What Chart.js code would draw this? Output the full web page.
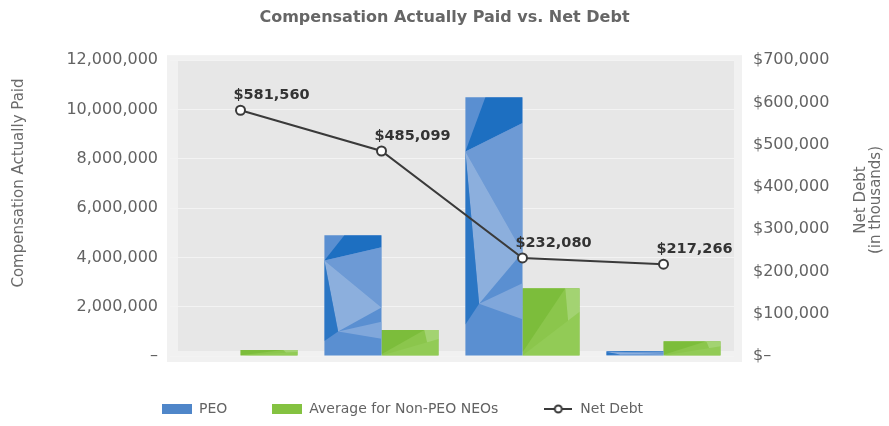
<!DOCTYPE html>
<html>
<head>
<meta charset="utf-8">
<script src="https://cdn.jsdelivr.net/npm/chart.js@4.4.0/dist/chart.umd.min.js"></script>
<style>
  html, body { margin: 0; padding: 0; background: #fff; }
</style>
</head>
<body>
<canvas id="chart" width="889" height="426"></canvas>
<script>
// data
const years = ['2020', '2021', '2022', '2023'];
const peo = [0, 4900000, 10500000, 200000];
const nonPeoAvg = [240000, 1050000, 2750000, 600000];
const netDebt = [581560, 485099, 232080, 217266];

const FONT = 'DejaVu Sans';
const TXT = '#636363';

// little legend icons (bar swatches + line w/ marker)
function swatch(w, h, color) {
    const c = document.createElement('canvas');
    c.width = w; c.height = h;
    const g = c.getContext('2d');
    g.fillStyle = color;
    g.fillRect(0, 0, w, h);
    return c;
}
function lineIcon() {
    const c = document.createElement('canvas');
    c.width = 28; c.height = 12;
    const g = c.getContext('2d');
    g.strokeStyle = '#3a3a3a'; g.lineWidth = 2;
    g.beginPath(); g.moveTo(0, 6); g.lineTo(28, 6); g.stroke();
    g.fillStyle = '#fff';
    g.beginPath(); g.arc(14, 6, 3.5, 0, Math.PI * 2); g.fill(); g.stroke();
    return c;
}
// indexed by dataset index: 0 = net debt line, 1 = PEO, 2 = non-PEO
const legendIcons = [lineIcon(), swatch(30, 10, '#4f86c9'), swatch(30, 10, '#84c241')];
const legendOrder = [2, 0, 1];

// faceted look of the bars, as fractions of each bar (u across, v down)
const facets = {
    blue: [
        [[0.35, 0], [1, 0], [1, 0.1], [0, 0.21], '#1d6fc1'],
        [[0, 0.21], [1, 0.1], [1, 0.6], '#6d9ad5'],
        [[0, 0.21], [1, 0.6], [0.24, 0.8], '#8cafdd'],
        [[0, 0.21], [0.24, 0.8], [0, 0.88], '#2b76c4'],
        [[0.24, 0.8], [1, 0.72], [1, 0.86], '#80a7db']
    ],
    green: [
        [[0, 0], [0.75, 0], [0, 0.95], '#7cbd3b'],
        [[0.75, 0], [1, 0], [1, 0.45], [0.8, 0.5], '#a3d372'],
        [[0, 1], [1, 0.35], [1, 1], '#92cb56']
    ]
};

const panelPlugin = {
    id: 'panel',
    beforeDraw(chart) {
        const { ctx, chartArea: a } = chart;
        ctx.save();
        ctx.fillStyle = '#f1f1f1';
        ctx.fillRect(a.left - 3, a.top - 5, a.right - a.left + 11, a.bottom - a.top + 11);
        ctx.fillStyle = '#e7e7e7';
        ctx.fillRect(a.left + 8, a.top, a.right - a.left - 8, a.bottom - a.top - 5);
        ctx.restore();
    }
};

const facetPlugin = {
    id: 'facets',
    afterDatasetDraw(chart, args) {
        const meta = args.meta;
        if (meta.type !== 'bar') return;
        const set = meta.index === 1 ? facets.blue : facets.green;
        const ctx = chart.ctx;
        meta.data.forEach(bar => {
            const h = bar.base - bar.y;
            if (h < 3) return;
            const l = bar.x - bar.width / 2, w = bar.width;
            ctx.save();
            ctx.beginPath(); ctx.rect(l, bar.y, w, h); ctx.clip();
            set.forEach(poly => {
                ctx.fillStyle = poly[poly.length - 1];
                ctx.beginPath();
                for (let k = 0; k < poly.length - 1; k++) {
                    const px = l + poly[k][0] * w, py = bar.y + poly[k][1] * h;
                    if (k === 0) ctx.moveTo(px, py); else ctx.lineTo(px, py);
                }
                ctx.closePath(); ctx.fill();
            });
            ctx.restore();
        });
    }
};

const labelPlugin = {
    id: 'pointLabels',
    afterDatasetsDraw(chart) {
        const ctx = chart.ctx;
        const meta = chart.getDatasetMeta(0);
        ctx.save();
        ctx.font = 'bold 14.5px "' + FONT + '"';
        ctx.fillStyle = '#333';
        ctx.textAlign = 'center';
        ctx.textBaseline = 'middle';
        meta.data.forEach((pt, i) => {
            ctx.fillText('$' + netDebt[i].toLocaleString('en-US'), pt.x + 31, pt.y - 15);
        });
        ctx.restore();
    }
};

// axis titles (right one reads bottom-to-top like the left one)
const axisTitlePlugin = {
    id: 'axisTitles',
    afterDraw(chart) {
        const ctx = chart.ctx;
        ctx.save();
        ctx.font = '15px "' + FONT + '"';
        ctx.fillStyle = '#6a6a6a';
        ctx.textAlign = 'center';
        ctx.textBaseline = 'middle';
        ctx.translate(19, 183);
        ctx.rotate(-Math.PI / 2);
        ctx.fillText('Compensation Actually Paid', 0, 0);
        ctx.restore();

        ctx.save();
        ctx.font = '15px "' + FONT + '"';
        ctx.fillStyle = '#6a6a6a';
        ctx.textAlign = 'center';
        ctx.textBaseline = 'middle';
        ctx.translate(869, 200);
        ctx.rotate(-Math.PI / 2);
        ctx.fillText('Net Debt', 0, -7.5);
        ctx.fillText('(in thousands)', 0, 7.5);
        ctx.restore();
    }
};

const legendShift = {
    id: 'legendShift',
    afterLayout(chart) {
        chart.legend.left += 117;
        chart.legend.right += 117;
    }
};

new Chart(document.getElementById('chart'), {
    data: {
        labels: years,
        datasets: [
            {
                type: 'line', label: 'Net Debt', data: netDebt, yAxisID: 'y1', order: 0,
                borderColor: '#3a3a3a', borderWidth: 2, tension: 0,
                pointRadius: 4.5, pointBackgroundColor: '#fff', pointBorderColor: '#3a3a3a', pointBorderWidth: 2
            },
            {
                type: 'bar', label: 'PEO', data: peo, yAxisID: 'y', order: 1,
                backgroundColor: '#5a8fd1', categoryPercentage: 0.81, barPercentage: 1
            },
            {
                type: 'bar', label: 'Average for Non-PEO NEOs', data: nonPeoAvg, yAxisID: 'y', order: 1,
                backgroundColor: '#8bc64c', categoryPercentage: 0.81, barPercentage: 1
            }
        ]
    },
    options: {
        responsive: false,
        animation: false,
        layout: { padding: 0 },
        plugins: {
            title: {
                display: true,
                text: 'Compensation Actually Paid vs. Net Debt',
                color: '#666',
                font: { family: FONT, size: 16, weight: 'bold' },
                padding: { top: 8, bottom: 33 }
            },
            legend: {
                position: 'bottom',
                align: 'start',
                labels: {
                    usePointStyle: true,
                    pointStyleWidth: 30,
                    boxHeight: 10,
                    padding: 45,
                    color: TXT,
                    font: { family: FONT, size: 14 },
                    sort: (a, b) => legendOrder[a.datasetIndex] - legendOrder[b.datasetIndex],
                    generateLabels(chart) {
                        const items = Chart.defaults.plugins.legend.labels.generateLabels(chart);
                        items.forEach(it => { it.pointStyle = legendIcons[it.datasetIndex]; });
                        return items;
                    }
                }
            },
            tooltip: { enabled: false }
        },
        scales: {
            x: {
                grid: { display: false, drawTicks: false },
                border: { display: false },
                ticks: { color: TXT, font: { family: FONT, size: 15 }, padding: 13 },
                afterFit(s) { s.height = 1; }
            },
            y: {
                position: 'left',
                min: 0, max: 12000000,
                grid: { color: '#f3f3f3', lineWidth: 1, drawTicks: false },
                border: { display: false },
                ticks: {
                    stepSize: 2000000, padding: 12, color: TXT,
                    font: { family: FONT, size: 16 },
                    callback: v => v === 0 ? '–' : v.toLocaleString('en-US')
                },
                afterFit(s) { s.width = 170; }
            },
            y1: {
                position: 'right',
                min: 0, max: 700000,
                grid: { display: false, drawTicks: false },
                border: { display: false },
                ticks: {
                    stepSize: 100000, padding: 19, color: TXT,
                    font: { family: FONT, size: 16 },
                    callback: v => v === 0 ? '$–' : '$' + v.toLocaleString('en-US')
                },
                afterFit(s) { s.width = 155; }
            }
        }
    },
    plugins: [panelPlugin, facetPlugin, labelPlugin, axisTitlePlugin, legendShift]
});
</script>
</body>
</html>
